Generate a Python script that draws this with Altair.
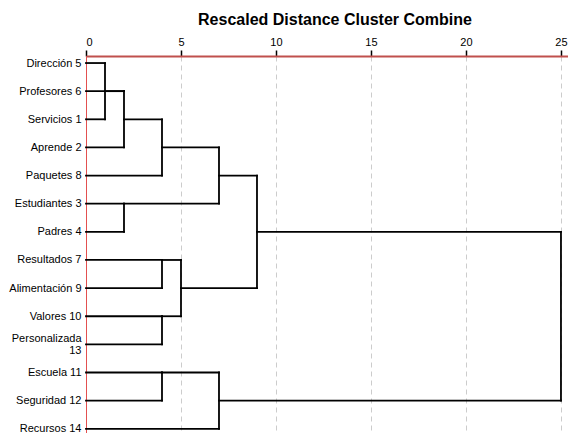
import json
import math
import altair as alt
import pandas as pd

# Leaves in display order (top to bottom)
labels = ["Dirección 5", "Profesores 6", "Servicios 1", "Aprende 2", "Paquetes 8",
          "Estudiantes 3", "Padres 4", "Resultados 7", "Alimentación 9", "Valores 10",
          ["Personalizada", "13"], "Escuela 11", "Seguridad 12", "Recursos 14"]

# Agglomeration schedule: (child a, child b, rescaled distance); clusters numbered 14, 15, ...
merge_a = [0, 14, 15, 5, 16, 7, 9, 11, 19, 18, 21, 23, 25]
merge_b = [2, 1, 3, 6, 4, 8, 10, 12, 20, 17, 13, 22, 24]
merge_d = [1, 2, 2, 2, 4, 4, 4, 4, 5, 7, 7, 9, 25]

tick_values = [0, 5, 10, 15, 20, 25]

n = len(labels)
pos = {i: i for i in range(n)}
start = {i: 0 for i in range(n)}
rows = []
for k, (a, b, d) in enumerate(zip(merge_a, merge_b, merge_d)):
    cid = n + k
    for c in (a, b):
        rows.append({"x": start[c], "x2": d, "y": pos[c], "y2": pos[c]})
    rows.append({"x": d, "x2": d, "y": pos[a], "y2": pos[b]})
    pos[cid] = math.floor((pos[a] + pos[b]) / 2)
    start[cid] = d

segs = pd.DataFrame(rows)

label_expr = json.dumps(labels, ensure_ascii=False) + "[datum.value]"
multi_idx = 10

FONT = "Liberation Sans"

chart = alt.Chart(segs).mark_rule(color="#000000", strokeWidth=1.8, strokeCap="square").encode(
    x=alt.X("x:Q",
            scale=alt.Scale(domain=[0, 25.37], nice=False, zero=False),
            axis=alt.Axis(orient="top", values=tick_values, title=None, format="d",
                          domainColor="#c0504d", domainWidth=2,
                          tickColor="#000000", tickSize=6, tickWidth=1.5,
                          labelFont=FONT, labelFontSize=11, labelColor="#000000",
                          labelPadding=3,
                          grid=True, gridDash=[5, 4], gridColor="#cccccc", gridWidth=1)),
    x2="x2:Q",
    y=alt.Y("y:Q",
            scale=alt.Scale(domain=[-0.25, 13.15], reverse=True, nice=False, zero=False),
            axis=alt.Axis(values=list(range(n)), labelExpr=label_expr, title=None,
                          ticks=False, grid=False,
                          domainColor="#e35050", domainWidth=1,
                          labelFont=FONT, labelFontSize=11, labelColor="#000000",
                          labelPadding=5, labelLineHeight=12,
                          labelOffset={"condition": {"test": f"datum.value == {multi_idx}", "value": -6},
                                       "value": 0})),
    y2="y2:Q",
).properties(
    width=482,
    height=377,
    autosize=alt.AutoSizeParams(type="none"),
    padding={"left": 78, "top": 48, "right": 0, "bottom": 6},
    title=alt.TitleParams("Rescaled Distance Cluster Combine", fontSize=16, fontWeight="bold",
                          font=FONT, color="#000000", anchor="middle", offset=8, dx=8),
).configure_view(strokeOpacity=0)

chart.save("out.html", embed_options={"renderer": "svg", "actions": False})
